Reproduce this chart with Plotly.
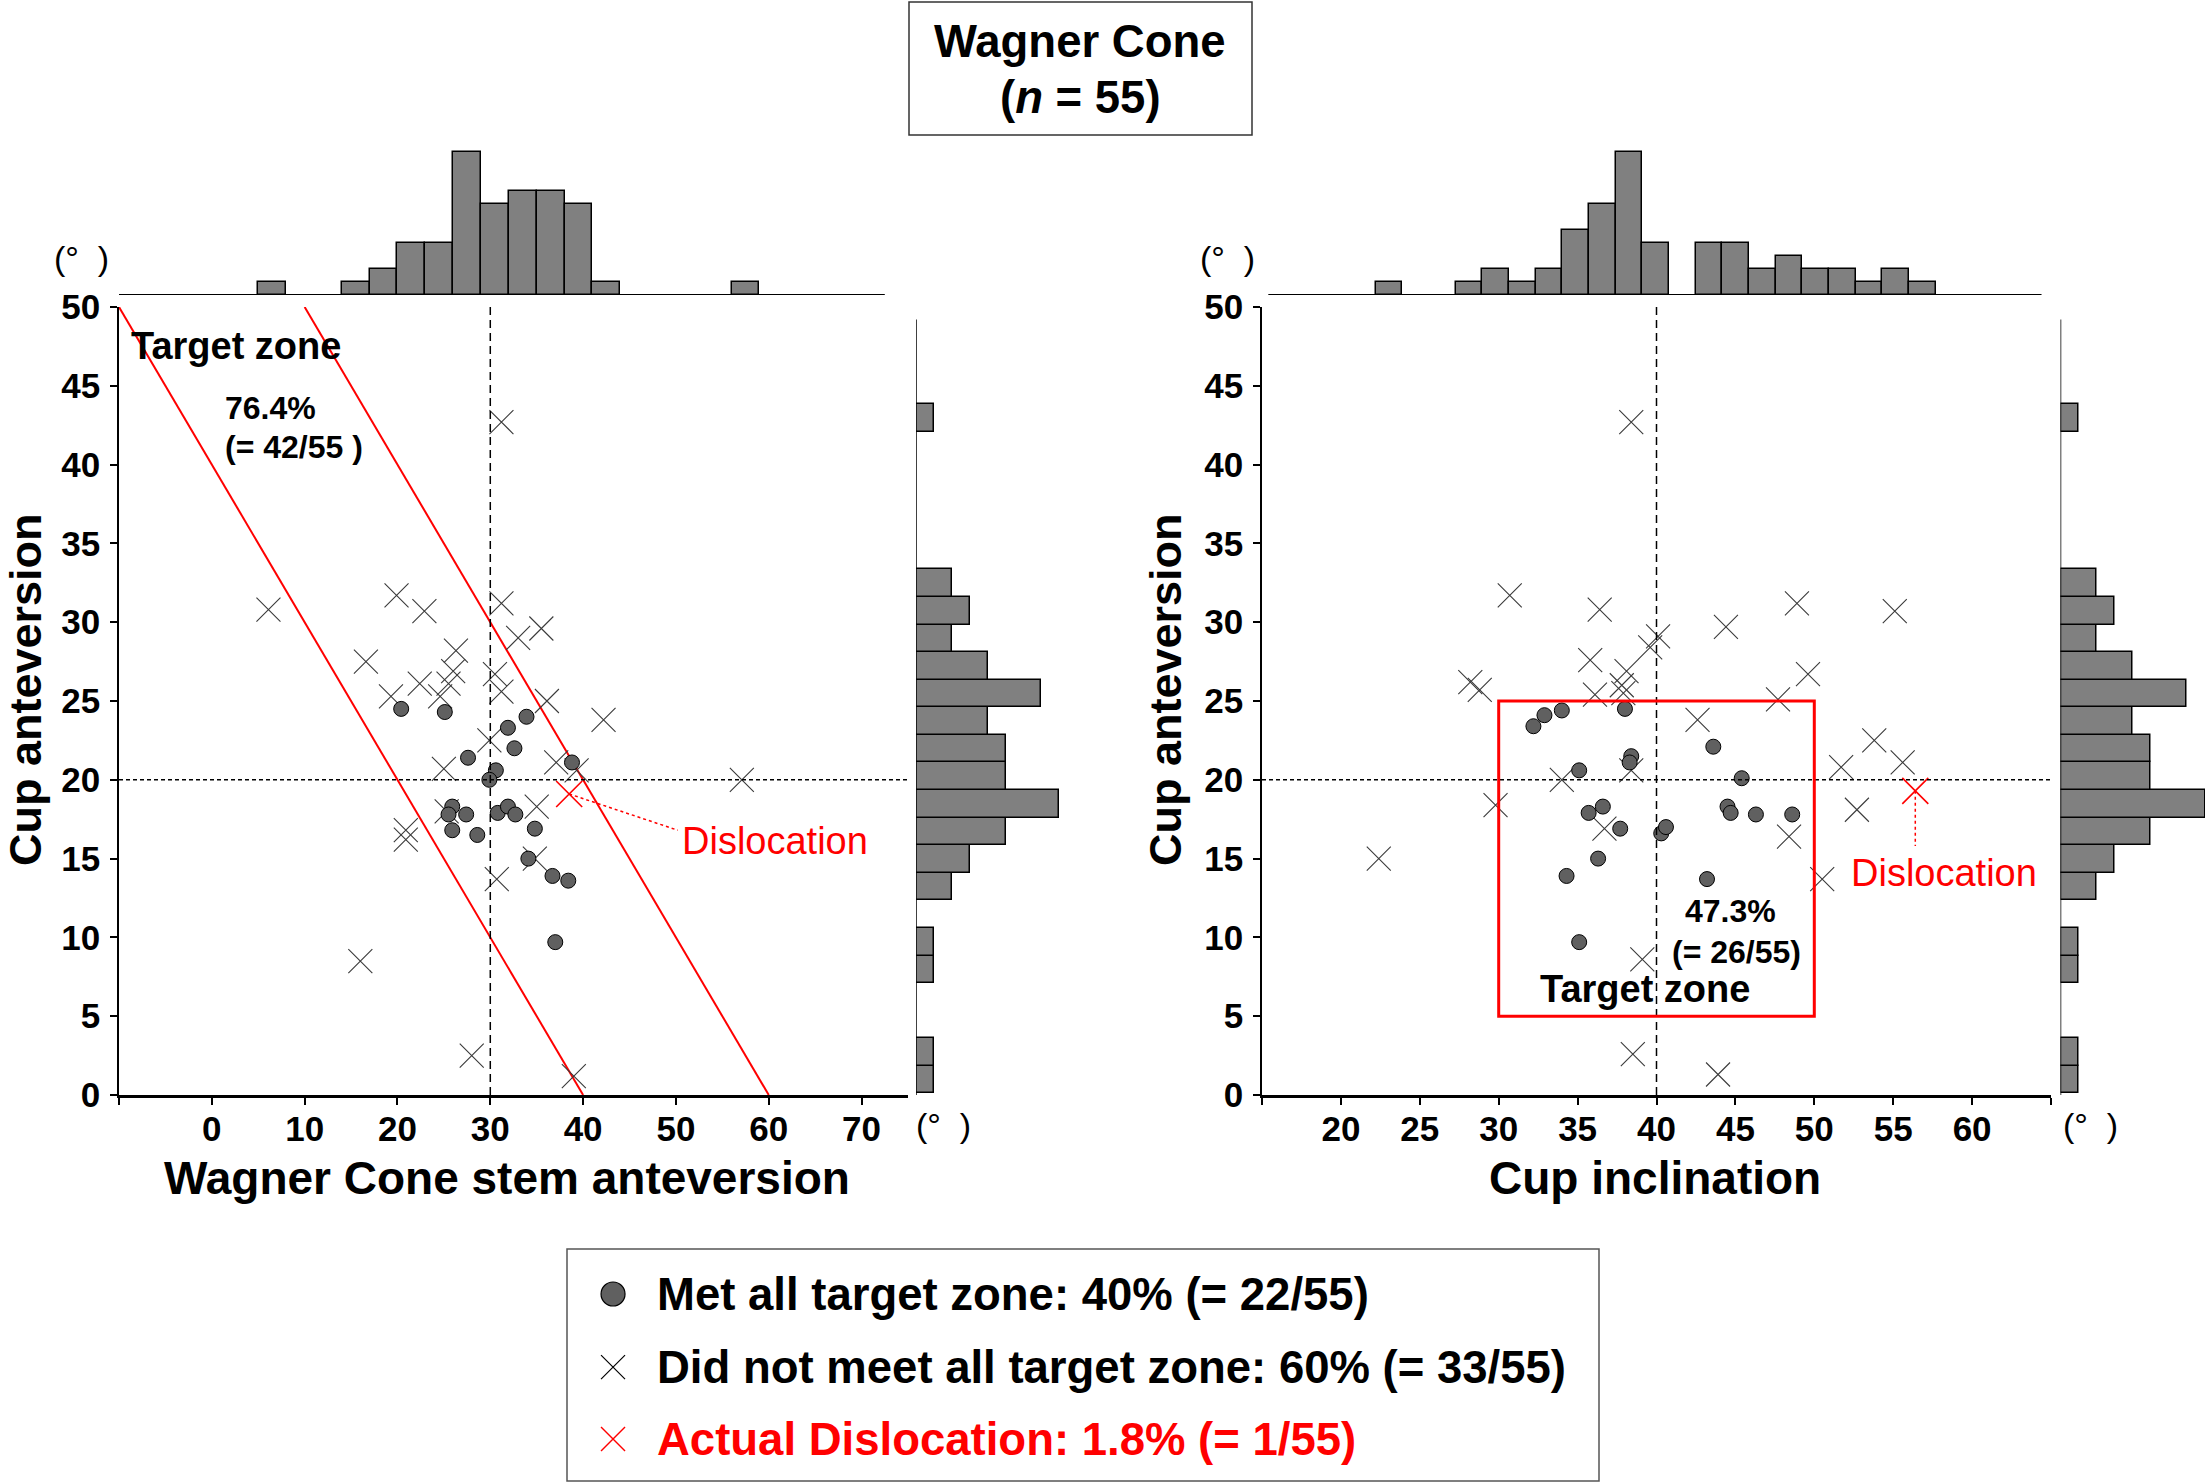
import plotly.graph_objects as go

W, H = 2205, 1484
FONT = "Arial, Liberation Sans, sans-serif"

# ---------------- Data ----------------
# Left panel: Wagner Cone stem anteversion (x) vs cup anteversion (y)
left_met_stem = [20.4, 25.1, 33.9, 31.9, 32.6, 27.6, 38.8, 30.6, 29.9,
                 25.9, 25.5, 27.4, 30.8, 31.9, 32.7, 25.9, 28.6, 34.8, 34.1, 36.7, 38.4, 37.0]
left_met_cup = [24.5, 24.3, 24.0, 23.3, 22.0, 21.4, 21.1, 20.6, 20.0,
                18.3, 17.8, 17.8, 17.9, 18.3, 17.8, 16.8, 16.5, 16.9, 15.0, 13.9, 13.6, 9.7]
left_miss_stem = [31.2, 6.1, 19.9, 22.9, 31.2, 35.5, 33.0, 26.3, 16.6, 30.5, 22.4, 25.5, 26.0,
                  24.6, 19.3, 31.2, 36.1, 42.2, 29.9, 25.0, 37.1, 39.3, 57.1, 25.3, 35.0, 20.9,
                  20.9, 34.8, 30.7, 16.0, 28.0, 39.0]
left_miss_cup = [42.7, 30.8, 31.7, 30.7, 31.2, 29.6, 29.0, 28.2, 27.5, 26.7, 26.1, 26.1, 26.9,
                 25.3, 25.3, 25.6, 25.0, 23.8, 22.5, 20.7, 21.1, 20.6, 20.0, 18.0, 18.3, 16.8,
                 16.2, 15.0, 13.7, 8.5, 2.5, 1.2]
left_disloc_stem = [38.5]
left_disloc_cup = [19.1]

# Right panel: cup inclination (x) vs cup anteversion (y)
right_met_incl = [32.2, 32.9, 34.0, 38.0, 43.6, 38.4, 38.3, 35.1, 45.4, 35.7, 36.6, 37.7, 40.3,
                  40.6, 44.5, 44.7, 46.3, 48.6, 36.3, 34.3, 43.2, 35.1]
right_met_cup = [23.4, 24.1, 24.4, 24.5, 22.1, 21.5, 21.1, 20.6, 20.1, 17.9, 18.3, 16.9, 16.6,
                 17.0, 18.3, 17.9, 17.8, 17.8, 15.0, 13.9, 13.7, 9.7]
right_miss_incl = [38.4, 30.7, 36.4, 48.9, 55.1, 44.4, 40.1, 39.6, 35.8, 38.1, 49.6, 28.2, 28.8,
                   37.8, 36.1, 37.9, 47.7, 42.6, 53.8, 51.7, 55.6, 34.0, 38.4, 29.8, 52.7, 36.7,
                   48.4, 22.4, 50.5, 39.1, 38.5, 43.9]
right_miss_cup = [42.7, 31.7, 30.8, 31.2, 30.7, 29.7, 29.1, 28.4, 27.6, 26.9, 26.7, 26.2, 25.7,
                  26.0, 25.4, 25.5, 25.1, 23.8, 22.5, 20.8, 21.1, 20.0, 20.6, 18.4, 18.1, 16.9,
                  16.4, 15.0, 13.7, 8.6, 2.6, 1.3]
right_disloc_incl = [56.4]
right_disloc_cup = [19.3]

# Marginal histograms (bin centres, counts)
stem_bin_width = 3.0
stem_bins = [6.5, 15.5, 18.5, 21.5, 24.5, 27.5, 30.5, 33.5, 36.5, 39.5, 42.5, 57.5]
stem_counts = [1, 1, 2, 4, 4, 11, 7, 8, 8, 7, 1, 1]

incl_bin_width = 1.69
incl_bins = [23.05, 28.12, 29.81, 31.50, 33.19, 34.88, 36.57, 38.26, 39.95, 43.33, 45.02,
             46.71, 48.40, 50.09, 51.78, 53.47, 55.16, 56.85]
incl_counts = [1, 1, 2, 1, 2, 5, 7, 11, 4, 4, 4, 2, 3, 2, 2, 1, 2, 1]

cupav_bin_width = 1.75
cupav_bins = [0.975, 2.725, 7.975, 9.725, 13.225, 14.975, 16.725, 18.475, 20.225, 21.975,
              23.725, 25.475, 27.225, 28.975, 30.725, 32.475, 42.975]
cupav_counts = [1, 1, 1, 1, 2, 3, 5, 8, 5, 5, 4, 7, 4, 2, 3, 2, 1]

# Target zones
combined_av_min, combined_av_max = 40, 60      # stem + cup anteversion
incl_zone = (30, 50)
cupav_zone = (5, 25)
ref_stem, ref_cupav, ref_incl = 30, 20, 40

left_xticks = list(range(-10, 71, 10))
right_xticks = list(range(15, 66, 5))
y_ticks = list(range(0, 51, 5))

# ---------------- Helpers ----------------
def fx(p):
    return p / W


def fy(p):
    return 1 - p / H


GRAY_DOT = "#606060"
GRAY_X = "#3a3a3a"
BAR_FILL = "#808080"

fig = go.Figure()

def add_scatter_panel(xa, ya, met_x, met_y, miss_x, miss_y, dis_x, dis_y):
    fig.add_trace(go.Scatter(x=miss_x, y=miss_y, mode="markers", xaxis=xa, yaxis=ya,
                             marker=dict(symbol="x-thin", size=24,
                                         line=dict(width=1.1, color=GRAY_X)),
                             hoverinfo="skip"))
    fig.add_trace(go.Scatter(x=met_x, y=met_y, mode="markers", xaxis=xa, yaxis=ya,
                             marker=dict(symbol="circle", size=15, color=GRAY_DOT,
                                         line=dict(width=1, color="black")),
                             hoverinfo="skip"))
    fig.add_trace(go.Scatter(x=dis_x, y=dis_y, mode="markers", xaxis=xa, yaxis=ya,
                             marker=dict(symbol="x-thin", size=26,
                                         line=dict(width=1.6, color="red")),
                             hoverinfo="skip"))

# Red combined-anteversion lines (left)
for lo in (combined_av_min, combined_av_max):
    fig.add_trace(go.Scatter(x=[lo - 50, lo], y=[50, 0], mode="lines", xaxis="x", yaxis="y",
                             line=dict(color="red", width=2), hoverinfo="skip"))

add_scatter_panel("x", "y", left_met_stem, left_met_cup, left_miss_stem, left_miss_cup,
                  left_disloc_stem, left_disloc_cup)
add_scatter_panel("x2", "y2", right_met_incl, right_met_cup, right_miss_incl, right_miss_cup,
                  right_disloc_incl, right_disloc_cup)

bar_line = dict(color="black", width=1.5)
fig.add_trace(go.Bar(x=stem_bins, y=stem_counts, width=stem_bin_width, xaxis="x3", yaxis="y3",
                     marker=dict(color=BAR_FILL, line=bar_line), hoverinfo="skip"))
fig.add_trace(go.Bar(x=incl_bins, y=incl_counts, width=incl_bin_width, xaxis="x4", yaxis="y4",
                     marker=dict(color=BAR_FILL, line=bar_line), hoverinfo="skip"))
fig.add_trace(go.Bar(y=cupav_bins, x=cupav_counts, width=cupav_bin_width, orientation="h",
                     xaxis="x5", yaxis="y5",
                     marker=dict(color=BAR_FILL, line=bar_line), hoverinfo="skip"))
fig.add_trace(go.Bar(y=cupav_bins, x=cupav_counts, width=cupav_bin_width, orientation="h",
                     xaxis="x6", yaxis="y6",
                     marker=dict(color=BAR_FILL, line=bar_line), hoverinfo="skip"))

# Legend markers on an overlay axis covering the legend box
fig.add_trace(go.Scatter(x=[0.0446], y=[0.806], mode="markers", xaxis="x7", yaxis="y7",
                         marker=dict(symbol="circle", size=24, color=GRAY_DOT,
                                     line=dict(width=1.2, color="black")), hoverinfo="skip"))
fig.add_trace(go.Scatter(x=[0.0446], y=[0.491], mode="markers", xaxis="x7", yaxis="y7",
                         marker=dict(symbol="x-thin", size=24, line=dict(width=1.2, color="black")),
                         hoverinfo="skip"))
fig.add_trace(go.Scatter(x=[0.0446], y=[0.181], mode="markers", xaxis="x7", yaxis="y7",
                         marker=dict(symbol="x-thin", size=24, line=dict(width=1.4, color="red")),
                         hoverinfo="skip"))

tickfont = dict(family=FONT, size=35, color="black", weight="bold")
ydom = [fy(1095), fy(307)]
hist_top_dom = [fy(295), fy(139)]

common_main = dict(showgrid=False, zeroline=False, showline=True, linecolor="black",
                   ticks="outside", ticklen=7, tickwidth=1.5, tickcolor="black",
                   tickfont=tickfont, automargin=False)
hidden = dict(visible=False, showgrid=False, zeroline=False, fixedrange=True, automargin=False)

fig.update_layout(
    width=W, height=H, margin=dict(l=0, r=0, t=0, b=0, pad=0, autoexpand=False),
    paper_bgcolor="white", plot_bgcolor="rgba(0,0,0,0)", showlegend=False, bargap=0,
    xaxis=dict(domain=[fx(119), fx(908)], range=[-10, 75], anchor="y",
               tickvals=left_xticks, ticktext=["" if v < 0 else str(v) for v in left_xticks],
               linewidth=2.5, ticklabelstandoff=-6, **common_main),
    yaxis=dict(domain=ydom, range=[0, 50], anchor="x", tickvals=y_ticks,
               linewidth=1.5, ticklabelstandoff=3, **common_main),
    xaxis2=dict(domain=[fx(1262), fx(2051)], range=[15, 65], anchor="y2",
                tickvals=right_xticks,
                ticktext=[str(v) if 20 <= v <= 60 else "" for v in right_xticks],
                linewidth=2.5, ticklabelstandoff=-6, **common_main),
    yaxis2=dict(domain=ydom, range=[0, 50], anchor="x2", tickvals=y_ticks,
                linewidth=1.5, ticklabelstandoff=3, **common_main),
    xaxis3=dict(domain=[fx(119), fx(908)], range=[-10, 75], anchor="y3", **hidden),
    yaxis3=dict(domain=hist_top_dom, range=[0, 12], anchor="x3", **hidden),
    xaxis4=dict(domain=[fx(1262), fx(2051)], range=[15, 65], anchor="y4", **hidden),
    yaxis4=dict(domain=hist_top_dom, range=[0, 12], anchor="x4", **hidden),
    xaxis5=dict(domain=[fx(916), fx(916 + 8.5 * 17.9)], range=[0, 8.5], anchor="y5", **hidden),
    yaxis5=dict(domain=ydom, range=[0, 50], anchor="x5", **hidden),
    xaxis6=dict(domain=[fx(2060.5), 1.0], range=[0, 8], anchor="y6", **hidden),
    yaxis6=dict(domain=ydom, range=[0, 50], anchor="x6", **hidden),
    xaxis7=dict(domain=[fx(567), fx(1599)], range=[0, 1], anchor="y7", **hidden),
    yaxis7=dict(domain=[fy(1481), fy(1249)], range=[0, 1], anchor="x7", **hidden),
)

shapes = []
# reference dashed lines
shapes.append(dict(type="line", xref="x", yref="y", x0=ref_stem, x1=ref_stem, y0=0, y1=50,
                   line=dict(color="black", width=1.5, dash="8px,5px")))
shapes.append(dict(type="line", xref="x", yref="y", x0=-10, x1=75, y0=ref_cupav, y1=ref_cupav,
                   line=dict(color="black", width=1.5, dash="4px,3px")))
shapes.append(dict(type="line", xref="x2", yref="y2", x0=ref_incl, x1=ref_incl, y0=0, y1=50,
                   line=dict(color="black", width=1.5, dash="8px,5px")))
shapes.append(dict(type="line", xref="x2", yref="y2", x0=15, x1=65, y0=ref_cupav, y1=ref_cupav,
                   line=dict(color="black", width=1.5, dash="4px,3px")))
# target zone rectangle (right)
shapes.append(dict(type="rect", xref="x2", yref="y2", x0=incl_zone[0], x1=incl_zone[1],
                   y0=cupav_zone[0], y1=cupav_zone[1], line=dict(color="red", width=3)))
# dislocation leader lines
shapes.append(dict(type="line", xref="x", yref="y", x0=left_disloc_stem[0], y0=left_disloc_cup[0],
                   x1=50.2, y1=16.8, line=dict(color="red", width=1.5, dash="dot")))
shapes.append(dict(type="line", xref="x2", yref="y2", x0=right_disloc_incl[0],
                   y0=right_disloc_cup[0], x1=right_disloc_incl[0], y1=15.8,
                   line=dict(color="red", width=1.5, dash="dot")))
# histogram baselines
shapes.append(dict(type="line", xref="x3", yref="y3", x0=-10, x1=72.5, y0=0, y1=0,
                   line=dict(color="black", width=2)))
shapes.append(dict(type="line", xref="x4", yref="y4", x0=15.4, x1=64.4, y0=0, y1=0,
                   line=dict(color="black", width=2)))
shapes.append(dict(type="line", xref="x5", yref="y5", x0=0, x1=0, y0=0, y1=49.2,
                   line=dict(color="black", width=1.5)))
shapes.append(dict(type="line", xref="x6", yref="y6", x0=0, x1=0, y0=0, y1=49.2,
                   line=dict(color="black", width=1.5)))
# title box and legend box
shapes.append(dict(type="rect", xref="paper", yref="paper", x0=fx(909), x1=fx(1252),
                   y0=fy(135), y1=fy(2), line=dict(color="#333333", width=1.5)))
shapes.append(dict(type="rect", xref="paper", yref="paper", x0=fx(567), x1=fx(1599),
                   y0=fy(1481), y1=fy(1249), line=dict(color="#555555", width=1.5)))
fig.update_layout(shapes=shapes)

ann = []

def txt(text, x, y, size, xref="paper", yref="paper", color="black", xanchor="center",
        angle=0):
    if xref == "paper":
        x = fx(x)
    if yref == "paper":
        y = fy(y)
    ann.append(dict(text=text, x=x, y=y, xref=xref, yref=yref, showarrow=False,
                    xanchor=xanchor, yanchor="middle", textangle=angle,
                    font=dict(family=FONT, size=size, color=color)))

# title
txt("<b>Wagner Cone</b>", 1080, 42, 45.5)
txt("<b>(<i>n</i> = 55)</b>", 1080, 97, 45.5)
# axis titles
txt("<b>Wagner Cone stem anteversion</b>", 507, 1178, 46)
txt("<b>Cup inclination</b>", 1655, 1178, 46)
txt("<b>Cup anteversion</b>", 26, 690, 45, angle=-90)
txt("<b>Cup anteversion</b>", 1166, 690, 45, angle=-90)
# degree units
for (ux, uy) in [(81, 258), (1227, 258), (943, 1125), (2090, 1125)]:
    txt("(°\u00a0\u00a0)", ux, uy, 34)
# left panel labels
txt("<b>Target zone</b>", 2.6, 47.5, 38, xref="x", yref="y")
txt("<b>76.4%</b>", 1.2, 43.6, 32, xref="x", yref="y", xanchor="left")
txt("<b>(= 42/55 )</b>", 1.2, 41.1, 32, xref="x", yref="y", xanchor="left")
txt("Dislocation", 50.4, 16.1, 38, xref="x", yref="y", color="red", xanchor="left")
# right panel labels
txt("<b>47.3%</b>", 44.7, 11.7, 32, xref="x2", yref="y2")
txt("<b>(= 26/55)</b>", 45.1, 9.1, 32, xref="x2", yref="y2")
txt("<b>Target zone</b>", 39.3, 6.7, 38, xref="x2", yref="y2")
txt("Dislocation", 52.2, 14.1, 38, xref="x2", yref="y2", color="red", xanchor="left")
# legend text
txt("<b>Met all target zone: 40% (= 22/55)</b>", 655, 1294, 45.5, xanchor="left")
txt("<b>Did not meet all target zone: 60% (= 33/55)</b>", 655, 1367, 45.5, xanchor="left")
txt("<b>Actual Dislocation: 1.8% (= 1/55)</b>", 655, 1439, 45.5, xanchor="left", color="red")

fig.update_layout(annotations=ann)
fig.write_html(
    "out.html",
    config={"displayModeBar": False},
    post_script="document.body.style.margin='0px';document.body.style.padding='0px';"
                "document.documentElement.style.overflow='hidden';",
)
